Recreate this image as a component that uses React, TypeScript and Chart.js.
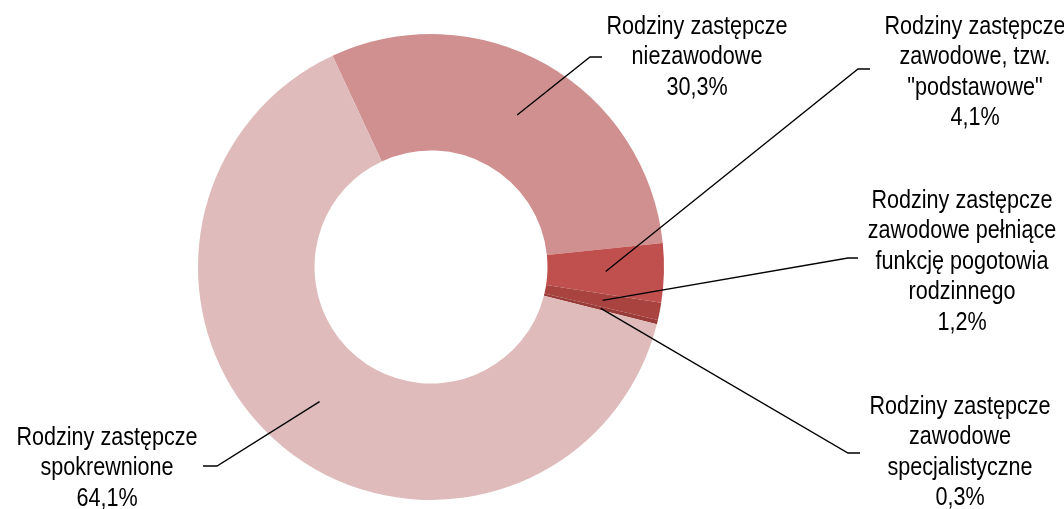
import React, { useEffect, useRef } from "react";
import { Chart, registerables } from "chart.js";

Chart.register(...registerables);

const categories = [
  "Rodziny zastępcze niezawodowe",
  "Rodziny zastępcze zawodowe, tzw. \"podstawowe\"",
  "Rodziny zastępcze zawodowe pełniące funkcję pogotowia rodzinnego",
  "Rodziny zastępcze zawodowe specjalistyczne",
  "Rodziny zastępcze spokrewnione",
];
const values = [30.3, 4.1, 1.2, 0.3, 64.1];
const valueLabels = ["30,3%", "4,1%", "1,2%", "0,3%", "64,1%"];
const labelLines = [
  ["Rodziny zastępcze", "niezawodowe"],
  ["Rodziny zastępcze", "zawodowe, tzw.", "\"podstawowe\""],
  ["Rodziny zastępcze", "zawodowe pełniące", "funkcję pogotowia", "rodzinnego"],
  ["Rodziny zastępcze", "zawodowe", "specjalistyczne"],
  ["Rodziny zastępcze", "spokrewnione"],
];
const colors = ["#D09090", "#C0504D", "#A8433F", "#993B38", "#DFBBBB"];

// label layout: text block center x, first baseline y, elbow point, end point
const labelLayout = [
  { x: 697, y: 34, elbow: [590, 57], end: [602, 57] },
  { x: 975, y: 34, elbow: [858, 69], end: [870, 69] },
  { x: 962, y: 208, elbow: [848, 258], end: [858, 258] },
  { x: 960, y: 414, elbow: [848, 453], end: [860, 453] },
  { x: 107, y: 445, elbow: [217, 466], end: [203, 466] },
];

const leaderPlugin = {
  id: "leaderLabels",
  afterDraw(chart: any) {
    const ctx = chart.ctx;
    const meta = chart.getDatasetMeta(0);
    ctx.save();
    meta.data.forEach((arc: any, i: number) => {
      const p = arc.getProps(["x", "y", "startAngle", "endAngle", "innerRadius", "outerRadius"], true);
      const mid = (p.startAngle + p.endAngle) / 2;
      const r = (p.innerRadius + p.outerRadius) / 2;
      const sx = p.x + Math.cos(mid) * r;
      const sy = p.y + Math.sin(mid) * r;
      const lay = labelLayout[i];
      ctx.strokeStyle = "#000";
      ctx.lineWidth = 1.3;
      ctx.beginPath();
      ctx.moveTo(sx, sy);
      ctx.lineTo(lay.elbow[0], lay.elbow[1]);
      ctx.lineTo(lay.end[0], lay.end[1]);
      ctx.stroke();
      const lines = [...labelLines[i], valueLabels[i]];
      ctx.fillStyle = "#000";
      ctx.font = "26px 'Liberation Sans', Arial, sans-serif";
      ctx.textAlign = "center";
      ctx.textBaseline = "alphabetic";
      lines.forEach((t, k) => {
        ctx.save();
        ctx.translate(lay.x, lay.y + k * 30.4);
        ctx.scale(0.83, 1);
        ctx.fillText(t, 0, 0);
        ctx.restore();
      });
    });
    ctx.restore();
  },
};

export default function App() {
  const ref = useRef<HTMLCanvasElement>(null);
  useEffect(() => {
    if (!ref.current) return;
    const chart = new Chart(ref.current, {
      type: "doughnut",
      data: {
        labels: categories,
        datasets: [
          {
            data: values,
            backgroundColor: colors,
            borderWidth: 0,
          },
        ],
      },
      options: {
        responsive: false,
        animation: false,
        rotation: -25,
        cutout: "50%",
        layout: { padding: { left: 198, right: 400, top: 34, bottom: 9 } },
        plugins: {
          legend: { display: false },
          tooltip: { enabled: false },
        },
      },
      plugins: [leaderPlugin],
    });
    return () => chart.destroy();
  }, []);
  return (
    <div style={{ position: "absolute", left: 0, top: 0, width: 1064, height: 509, background: "#fff" }}>
      <canvas ref={ref} width={1064} height={509} />
    </div>
  );
}
